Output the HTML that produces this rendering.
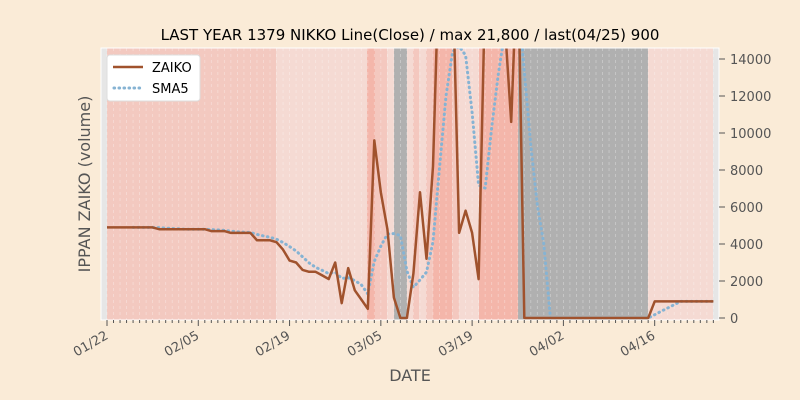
<!DOCTYPE html>
<html><head><meta charset="utf-8"><style>
body{margin:0;background:#faebd7;}
svg{display:block;font-family:"DejaVu Sans","Liberation Sans",sans-serif;}
</style></head><body>
<svg id="s" width="800" height="400" viewBox="0 0 800 400">
<rect width="800" height="400" fill="#faebd7"/>
<g id="bands"></g>
<g id="grid"></g>
<g id="lines"></g>
<rect x="101" y="48" width="618" height="272" fill="none" stroke="#fff" stroke-width="1"/>
<g id="ticks" stroke="#555" stroke-width="1"></g>
<text x="410" y="40" font-size="15" text-anchor="middle" fill="#000">LAST YEAR 1379 NIKKO Line(Close) / max 21,800 / last(04/25) 900</text>
<text transform="translate(90,184) rotate(-90)" font-size="16" text-anchor="middle" fill="#555">IPPAN ZAIKO (volume)</text>
<text x="410" y="381" font-size="16" text-anchor="middle" fill="#555">DATE</text>
<g font-size="13" fill="#555">
<text x="730" y="64">14000</text><text x="730" y="101">12000</text><text x="730" y="138">10000</text>
<text x="730" y="175">8000</text><text x="730" y="212">6000</text><text x="730" y="249">4000</text>
<text x="730" y="286">2000</text><text x="730" y="323">0</text>
</g>
<g font-size="13" fill="#555" text-anchor="end">
<text transform="translate(109,338) rotate(-30)">01/22</text>
<text transform="translate(200,338) rotate(-30)">02/05</text>
<text transform="translate(291,338) rotate(-30)">02/19</text>
<text transform="translate(383,338) rotate(-30)">03/05</text>
<text transform="translate(474,338) rotate(-30)">03/19</text>
<text transform="translate(565,338) rotate(-30)">04/02</text>
<text transform="translate(656,338) rotate(-30)">04/16</text>
</g>
<rect x="107" y="55" width="93" height="46" rx="3" fill="#fff" stroke="#ddd"/>
<line x1="113" y1="67" x2="143" y2="67" stroke="#a0522d" stroke-width="2.5"/>
<text x="152" y="72" font-size="13" fill="#000">ZAIKO</text>
<line x1="114" y1="88" x2="143" y2="88" stroke="#86b3d3" stroke-width="3" stroke-linecap="round" stroke-dasharray="0.6,4.4"/>
<text x="152" y="93" font-size="13" fill="#000">SMA5</text>
</svg>
<script>
var NS="http://www.w3.org/2000/svg";
function el(p,t,a){var e=document.createElementNS(NS,t);for(var k in a)e.setAttribute(k,a[k]);document.getElementById(p).appendChild(e);return e;}
var bands=[[101,107,"#e6e6e6"],[107,276,"#f3c9c0"],[276,367,"#f5dad3"],[367,375,"#f4b6aa"],[375,387,"#f4c8bf"],[387,394,"#f5dad3"],[394,407,"#b0b0b0"],[407,413,"#f5dad3"],[413,419,"#f4c8bf"],[419,426,"#f5dad3"],[426,433,"#f4c8bf"],[433,452,"#f4b6aa"],[452,459,"#f4c8bf"],[459,479,"#f5dad3"],[479,518,"#f4b6aa"],[518,648,"#b0b0b0"],[648,713,"#f5dad3"],[713,719,"#e6e6e6"]];
bands.forEach(function(b){el("bands","rect",{x:b[0],y:48,width:b[1]-b[0],height:272,fill:b[2]});});
function X(d){return 107+6.52*d;}
function Y(v){return 318-v*0.0185;}
for(var d=0;d<=93;d++){el("grid","line",{x1:X(d),y1:48,x2:X(d),y2:320,stroke:"#fff","stroke-opacity":0.35,"stroke-dasharray":"3,3","stroke-width":0.8});
el("ticks","line",{x1:X(d),y1:320,x2:X(d),y2:d%14==0?326:323});}
[0,2000,4000,6000,8000,10000,12000,14000].forEach(function(v){el("ticks","line",{x1:719,y1:Y(v),x2:725,y2:Y(v)});});
var z=[];
for(d=0;d<=93;d++){
var v;
if(d<8)v=4900;else if(d<16)v=4800;else if(d<19)v=4700;else if(d<23)v=4600;else if(d<26)v=4200;else v=null;
z[d]=v;}
var seq={26:4100,27:3700,28:3100,29:3000,30:2600,31:2500,32:2500,33:2300,34:2100,35:3000,36:800,37:2700,38:1500,39:1000,40:500,41:9600,42:6800,43:4800,44:1100,45:0,46:0,47:2400,48:6800,49:3200,50:8200,51:20000,52:21800,53:18800,54:4600,55:5800,56:4600,57:2100,58:18000,59:21000,60:20000,61:16000,62:10600,63:20000};
for(var k in seq)z[k]=seq[k];
for(d=64;d<84;d++)z[d]=0;for(d=84;d<=93;d++)z[d]=900;
var p="";for(d=0;d<=93;d++)p+=(d?"L":"M")+X(d).toFixed(1)+","+Y(z[d]).toFixed(1);
var s="";for(d=4;d<=93;d++){var m=(z[d]+z[d-1]+z[d-2]+z[d-3]+z[d-4])/5;s+=(d>4?"L":"M")+X(d).toFixed(1)+","+Y(m).toFixed(1);}
var cp=el("lines","clipPath",{id:"c"});var r=document.createElementNS(NS,"rect");r.setAttribute("x",101);r.setAttribute("y",48);r.setAttribute("width",618);r.setAttribute("height",272);cp.appendChild(r);
el("lines","path",{d:s,fill:"none",stroke:"#86b3d3","stroke-width":3,"stroke-linecap":"round","stroke-dasharray":"0.6,4.4","clip-path":"url(#c)"});
el("lines","path",{d:p,fill:"none",stroke:"#a0522d","stroke-width":2.5,"stroke-linejoin":"round","clip-path":"url(#c)"});
</script>
</body></html>
